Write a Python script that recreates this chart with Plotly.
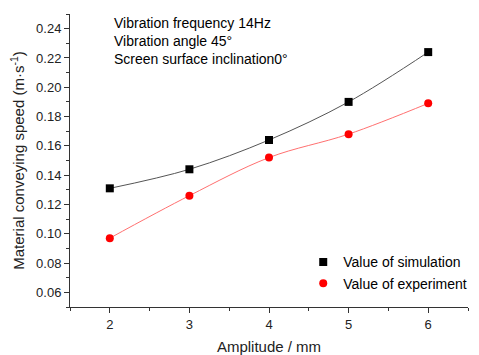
import plotly.graph_objects as go

amplitude = [2, 3, 4, 5, 6]
sim_speed = [0.131, 0.144, 0.164, 0.190, 0.224]
exp_speed = [0.097, 0.126, 0.152, 0.168, 0.189]

font = "Liberation Sans, Arial, sans-serif"
fig = go.Figure()
fig.add_trace(go.Scatter(x=amplitude, y=sim_speed, mode="lines", line=dict(color="#555555", width=1, shape="spline", smoothing=1.0), showlegend=False, hoverinfo="skip"))
fig.add_trace(go.Scatter(x=amplitude, y=exp_speed, mode="lines", line=dict(color="#ff7070", width=1, shape="spline", smoothing=1.0), showlegend=False, hoverinfo="skip"))
fig.add_trace(go.Scatter(x=amplitude, y=sim_speed, mode="markers", name="Value of simulation",
                         marker=dict(symbol="square", size=8, color="black")))
fig.add_trace(go.Scatter(x=amplitude, y=exp_speed, mode="markers", name="Value of experiment",
                         marker=dict(symbol="circle", size=8, color="red")))

notes = ["Vibration frequency 14Hz", "Vibration angle 45°", "Screen surface inclination0°"]
for i, t in enumerate(notes):
    fig.add_annotation(text=t, xref="paper", yref="paper", x=0.105, y=1.005 - i * 0.062,
                       xanchor="left", yanchor="top", showarrow=False,
                       font=dict(family=font, size=14, color="black"))

axis_common = dict(showline=True, linecolor="#333333", linewidth=1, ticks="outside", ticklen=5,
                   tickcolor="#333333", showgrid=False, zeroline=False, mirror=False, automargin=False,
                   tickfont=dict(family=font, size=13, color="#222222"))
fig.update_xaxes(range=[1.5, 6.5], tickvals=[2, 3, 4, 5, 6],
                 minor=dict(ticks="outside", ticklen=3, tickcolor="#333333", dtick=0.5, tick0=1.5),
                 title=dict(text="Amplitude / mm", font=dict(family=font, size=15, color="#222222"), standoff=10),
                 **axis_common)
fig.update_yaxes(range=[0.05, 0.25], tickvals=[0.06, 0.08, 0.10, 0.12, 0.14, 0.16, 0.18, 0.20, 0.22, 0.24],
                 tickformat=".2f",
                 minor=dict(ticks="outside", ticklen=3, tickcolor="#333333", dtick=0.01, tick0=0.05),
                 title=dict(text="Material conveying speed (m·s<sup>-1</sup>)", font=dict(family=font, size=15, color="#222222"), standoff=8),
                 **axis_common)
fig.update_layout(width=479, height=355, margin=dict(l=62, r=19, t=6, b=56),
                  plot_bgcolor="white", paper_bgcolor="white",
                  font=dict(family=font),
                  legend=dict(x=0.586, y=0.207, xanchor="left", yanchor="top",
                              bgcolor="rgba(0,0,0,0)",
                              font=dict(family=font, size=14, color="black"), tracegroupgap=0))
fig.write_html("out.html")
